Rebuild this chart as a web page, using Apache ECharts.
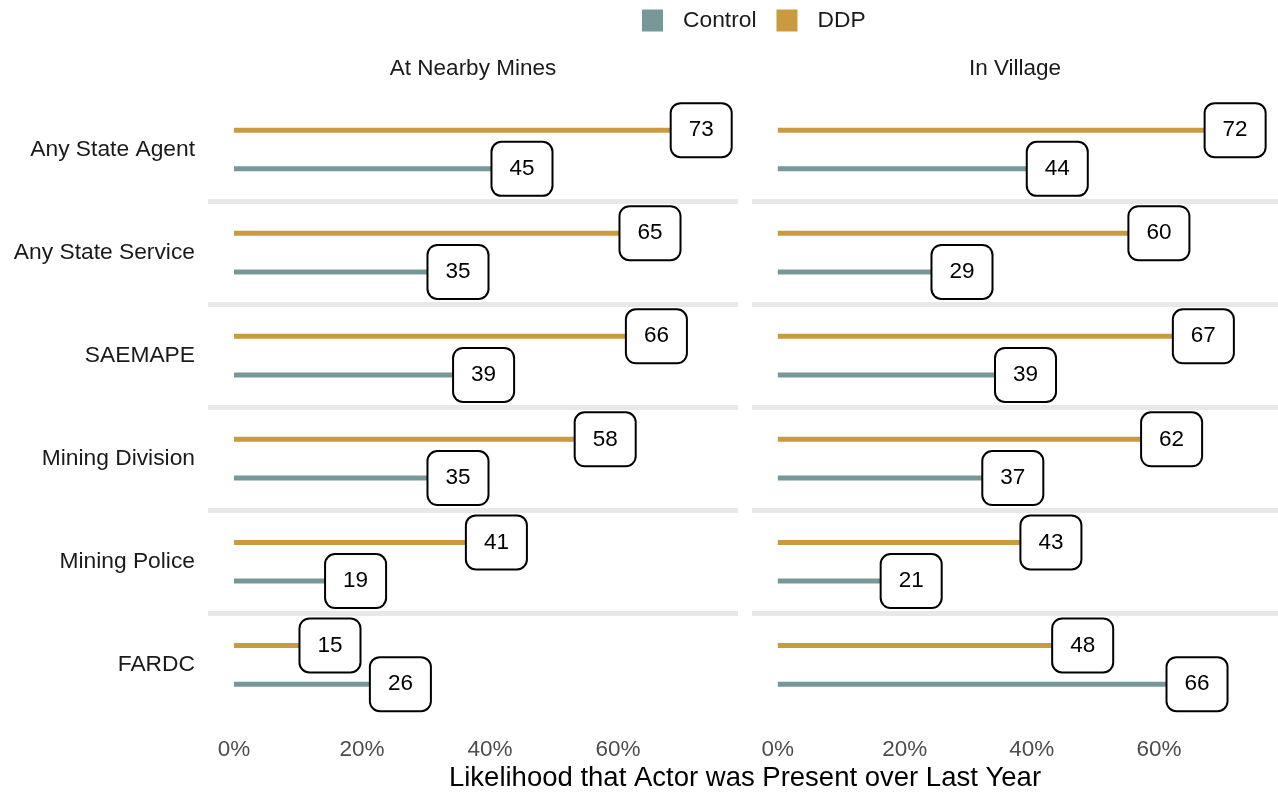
<!DOCTYPE html>
<html>
<head>
<meta charset="utf-8">
<script src="https://cdn.jsdelivr.net/npm/echarts@6/dist/echarts.min.js"></script>
<style>
html,body{margin:0;padding:0;background:#fff;}
#chart{width:1278px;height:792px;}
</style>
</head>
<body>
<div id="chart"></div>
<script>
// ---- data ----
var actors = ['Any State Agent', 'Any State Service', 'SAEMAPE', 'Mining Division', 'Mining Police', 'FARDC'];
var panels = ['At Nearby Mines', 'In Village'];
var groups = ['Control', 'DDP'];
var minesControl = [45, 35, 39, 35, 19, 26];
var minesDDP = [73, 65, 66, 58, 41, 15];
var villageControl = [44, 29, 39, 37, 21, 66];
var villageDDP = [72, 60, 67, 62, 43, 48];
var tickValues = [0, 20, 40, 60];
var axisTitle = 'Likelihood that Actor was Present over Last Year';

(function () {
  // ---- styling / layout ----
  var FONT = '"Liberation Sans", Arial, Helvetica, sans-serif';
  var colors = {Control: '#769899', DDP: '#CA9A3E'};
  var panelLeft = [208, 752];
  var panelWidth = 530;
  var rowTop0 = 98, rowH = 103.06;
  var gridInset = 12.8, gridH = 77.4;
  var xMin = -4.06, xMax = 78.75;

  var controlVals = [minesControl, villageControl];
  var ddpVals = [minesDDP, villageDDP];

  var grids = [], xAxes = [], yAxes = [], series = [];
  var idx = 0;
  for (var r = 0; r < actors.length; r++) {
    for (var c = 0; c < panels.length; c++) {
      var gTop = rowTop0 + r * rowH + gridInset;
      var last = (r === actors.length - 1);
      grids.push({left: panelLeft[c], top: gTop, width: panelWidth, height: gridH});
      xAxes.push({
        type: 'value', gridIndex: idx, min: xMin, max: xMax,
        offset: gridInset,
        splitLine: {show: false},
        axisTick: {show: false},
        axisLine: {show: !last, onZero: false, lineStyle: {color: '#E8E8E8', width: 5, cap: 'butt'}},
        axisLabel: {
          show: last, customValues: tickValues, formatter: '{value}%',
          color: '#4D4D4D', fontSize: 22.5, fontFamily: FONT, margin: 22
        }
      });
      yAxes.push({
        type: 'category', gridIndex: idx, data: groups,
        axisLine: {show: false}, axisTick: {show: false}, axisLabel: {show: false},
        splitLine: {show: false},
        name: c === 0 ? actors[r] : '',
        nameLocation: 'middle', nameRotate: 0, nameGap: 13,
        nameTextStyle: {fontSize: 22.8, color: '#1A1A1A', fontFamily: FONT, align: 'right',
                        verticalAlign: 'middle', padding: [7, 0, 0, 0]}
      });
      var cv = controlVals[c][r], dv = ddpVals[c][r];
      series.push({
        type: 'bar', name: 'Control', xAxisIndex: idx, yAxisIndex: idx,
        data: [cv, '-'], barWidth: 5, barGap: '-100%',
        itemStyle: {color: colors.Control}, silent: true
      });
      series.push({
        type: 'bar', name: 'DDP', xAxisIndex: idx, yAxisIndex: idx,
        data: ['-', dv], barWidth: 5, barGap: '-100%',
        itemStyle: {color: colors.DDP}, silent: true
      });
      series.push({
        type: 'scatter', name: 'labels', xAxisIndex: idx, yAxisIndex: idx, z: 5,
        data: [[cv, 'Control'], [dv, 'DDP']],
        symbol: 'circle', symbolSize: 1, itemStyle: {color: 'rgba(0,0,0,0)', opacity: 1}, silent: true,
        label: {
          show: true, position: 'inside',
          formatter: function (p) { return String(p.value[0]); },
          color: '#000', fontSize: 22.5, fontFamily: FONT, lineHeight: 24,
          backgroundColor: '#fff', borderColor: '#000', borderWidth: 2, borderRadius: 9,
          padding: [16, 17, 12, 17], opacity: 1
        },
        labelLayout: {hideOverlap: false}
      });
      idx++;
    }
  }

  var chart = echarts.init(document.getElementById('chart'));
  chart.setOption({
    animation: false,
    backgroundColor: '#fff',
    textStyle: {fontFamily: FONT},
    title: [
      {text: panels[0], left: panelLeft[0] + panelWidth / 2, top: 57, textAlign: 'center', padding: 0,
       textStyle: {fontSize: 22.5, fontWeight: 'normal', color: '#1A1A1A', fontFamily: FONT}},
      {text: panels[1], left: panelLeft[1] + panelWidth / 2 - 2, top: 57, textAlign: 'center', padding: 0,
       textStyle: {fontSize: 22.5, fontWeight: 'normal', color: '#1A1A1A', fontFamily: FONT}},
      {text: axisTitle, left: 745, top: 764, textAlign: 'center', padding: 0,
       textStyle: {fontSize: 27.5, fontWeight: 'normal', color: '#000', fontFamily: FONT}}
    ],
    legend: {
      data: groups, left: 642, top: 9, padding: 0, icon: 'rect',
      itemWidth: 21, itemHeight: 22, itemGap: 20,
      textStyle: {fontSize: 22.8, color: '#1A1A1A', fontFamily: FONT, padding: [0, 0, 0, 15]}
    },
    grid: grids,
    xAxis: xAxes,
    yAxis: yAxes,
    series: series
  });
})();
</script>
</body>
</html>
